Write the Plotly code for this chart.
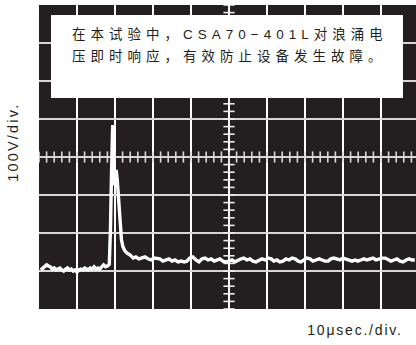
import plotly.graph_objects as go

# ---- data ----
time_us = [
    0.5, 1.0, 1.5, 2.0, 2.5, 3.0, 3.5, 4.0, 4.5, 5.0, 5.5, 6.0, 6.5, 7.0, 7.5, 8.0, 8.5, 9.0, 9.5, 10.0,
    10.5, 11.0, 11.5, 12.0, 12.5, 13.0, 13.5, 14.0, 14.5, 15.0, 15.5, 16.0, 16.5, 17.0, 17.5, 18.0, 18.5,
    18.8, 19.1, 19.4, 19.6, 19.8, 20.0, 20.3, 20.6, 20.9, 21.3, 21.7, 22.1, 22.6, 23.2,
    24.0, 24.8, 25.5, 26.3, 27.1, 27.9, 28.7, 29.5, 30.3, 31.1, 31.8, 32.6, 33.4, 34.2, 35.0, 35.8,
    36.6, 37.4, 38.2, 38.9, 39.7, 40.5, 41.3, 42.1, 42.9, 43.7, 44.5, 45.3, 46.1, 46.8, 47.6, 48.4,
    49.2, 50.0, 50.8, 51.6, 52.4, 53.2, 53.9, 54.7, 55.5, 56.3, 57.1, 57.9, 58.7, 59.5, 60.3, 61.1,
    61.8, 62.6, 63.4, 64.2, 65.0, 65.8, 66.6, 67.4, 68.2, 68.9, 69.7, 70.5, 71.3, 72.1, 72.9, 73.7,
    74.5, 75.3, 76.1, 76.8, 77.6, 78.4, 79.2, 80.0, 80.8, 81.6, 82.4, 83.2, 83.9, 84.7, 85.5, 86.3,
    87.1, 87.9, 88.7, 89.5, 90.3, 91.1, 91.8, 92.6, 93.4, 94.2, 95.0, 95.8, 96.6, 97.4, 98.2, 98.9,
]
voltage_v = [
    -297, -292, -287, -284, -287, -289, -295, -292, -297, -295, -292, -297, -300, -295, -292, -297, -295, -300, -297, -303,
    -297, -295, -297, -292, -295, -297, -292, -295, -289, -295, -292, -295, -289, -284, -289, -287, -282,
    -192, -34, 84, 18, -74, -47, -34, -61, -113, -179, -218, -237, -247, -253,
    -258, -266, -263, -268, -266, -263, -268, -271, -266, -268, -268, -274, -271, -268, -274, -271,
    -276, -274, -276, -274, -266, -263, -271, -276, -268, -266, -271, -268, -274, -271, -268, -274,
    -276, -274, -271, -276, -271, -268, -266, -271, -268, -274, -276, -271, -268, -271, -266, -268,
    -274, -271, -276, -274, -268, -271, -266, -268, -274, -276, -271, -266, -268, -274, -271, -268,
    -271, -274, -274, -268, -266, -268, -271, -266, -268, -271, -274, -271, -274, -271, -268, -271,
    -268, -266, -271, -268, -266, -266, -271, -274, -271, -268, -274, -276, -271, -268, -271, -271,
]

x_grid = [10, 20, 30, 40, 50, 60, 70, 80, 90]
y_grid = [-300, -200, -100, 0, 100, 200, 300]
note_line1 = "在本试验中，CSA70−401L对浪涌电"
note_line2 = "压即时响应，有效防止设备发生故障。"
y_label = "100V/div."
x_label = "10μsec./div."

# minor ticks on the centre cross-hair
minor_t = [t / 10 for t in range(0, 1000, 20)]
minor_v = [v for v in range(-400, 401, 20)]

BG = "#231f20"
fig = go.Figure()

fig.add_trace(go.Scatter(
    x=minor_t, y=[0] * len(minor_t), mode="markers",
    marker=dict(symbol="line-ns", size=8, line=dict(width=1.6, color="#d8d8d8")),
    hoverinfo="skip", showlegend=False))
fig.add_trace(go.Scatter(
    x=[50] * len(minor_v), y=minor_v, mode="markers",
    marker=dict(symbol="line-ew", size=8, line=dict(width=1.6, color="#ececec")),
    hoverinfo="skip", showlegend=False))

fig.add_trace(go.Scatter(
    x=time_us, y=voltage_v, mode="lines",
    line=dict(color="white", width=3.4),
    hoverinfo="skip", showlegend=False))

fig.update_xaxes(range=[0, 100 * 377 / 380], tickvals=x_grid, showticklabels=False,
                 ticks="", showgrid=True, gridcolor="white", gridwidth=2,
                 zeroline=False, showline=False, fixedrange=True)
fig.update_yaxes(range=[-400, 400], tickvals=y_grid, showticklabels=False,
                 ticks="", showgrid=True, gridcolor="#d6d6d6", gridwidth=2,
                 zeroline=False, showline=False, fixedrange=True)

def px_x(p):
    return (p - 39) / 377

def px_y(p):
    return (309 - p) / 304

# screen background reaching the right edge of the page
fig.add_shape(type="rect", xref="paper", yref="paper", x0=0, x1=1.03, y0=0, y1=1,
              fillcolor=BG, line=dict(width=0), layer="below")
fig.add_shape(type="rect", xref="paper", yref="paper",
              x0=px_x(51), x1=px_x(403), y0=px_y(98), y1=px_y(15),
              fillcolor="white", line=dict(width=0), layer="above")

cjk_font = dict(family="Liberation Sans, Noto Sans CJK SC, sans-serif", size=13.5, color=BG)
fig.add_annotation(text=note_line1, xref="paper", yref="paper", x=px_x(70), y=px_y(34),
                   xanchor="left", yanchor="middle", align="left", showarrow=False, font=cjk_font)
fig.add_annotation(text=note_line2, xref="paper", yref="paper", x=px_x(70), y=px_y(56),
                   xanchor="left", yanchor="middle", align="left", showarrow=False, font=cjk_font)

fig.add_annotation(text=y_label, xref="paper", yref="paper", x=px_x(13), y=px_y(144),
                   xanchor="center", yanchor="middle", textangle=-90, showarrow=False,
                   font=dict(family="Liberation Sans, Arial, sans-serif", size=14.5, color=BG))
fig.add_annotation(text=x_label, xref="paper", yref="paper", x=px_x(403), y=px_y(330),
                   xanchor="right", yanchor="middle", align="right", showarrow=False,
                   font=dict(family="Liberation Sans, Arial, sans-serif", size=14, color=BG))

fig.update_layout(width=416, height=345, margin=dict(l=39, r=0, t=5, b=36),
                  plot_bgcolor=BG, paper_bgcolor="white", showlegend=False)

post = """
document.documentElement.style.margin = '0';
document.documentElement.style.overflow = 'hidden';
document.body.style.margin = '0';
document.body.style.overflow = 'hidden';
var gd = document.getElementById('{plot_id}');
function spacing(){
  gd.querySelectorAll('.annotation-text').forEach(function(t){
    if (t.getAttribute('data-ls')) return;
    var s = t.textContent, mode, ls;
    if (s.indexOf('sec') >= 0) { mode = 'right'; ls = 1.8; }
    else if (s.indexOf('V/div') >= 0) { mode = 'center'; ls = 2.2; }
    else { mode = 'left'; ls = 5; }
    var b0 = t.getBBox();
    t.style.letterSpacing = ls + 'px';
    var b1 = t.getBBox();
    var dx;
    if (mode === 'left') dx = b0.x - b1.x;
    else if (mode === 'right') dx = (b0.x + b0.width) - (b1.x + b1.width - ls);
    else dx = (b0.x + b0.width / 2) - (b1.x + (b1.width - ls) / 2);
    var x = parseFloat(t.getAttribute('x') || '0');
    t.setAttribute('x', x + dx);
    t.querySelectorAll('tspan[x]').forEach(function(sp){
      sp.setAttribute('x', parseFloat(sp.getAttribute('x')) + dx);
    });
    t.setAttribute('data-ls', '1');
  });
}
spacing();
gd.on('plotly_afterplot', spacing);
"""
fig.write_html("out.html", post_script=post, config={"staticPlot": True})
